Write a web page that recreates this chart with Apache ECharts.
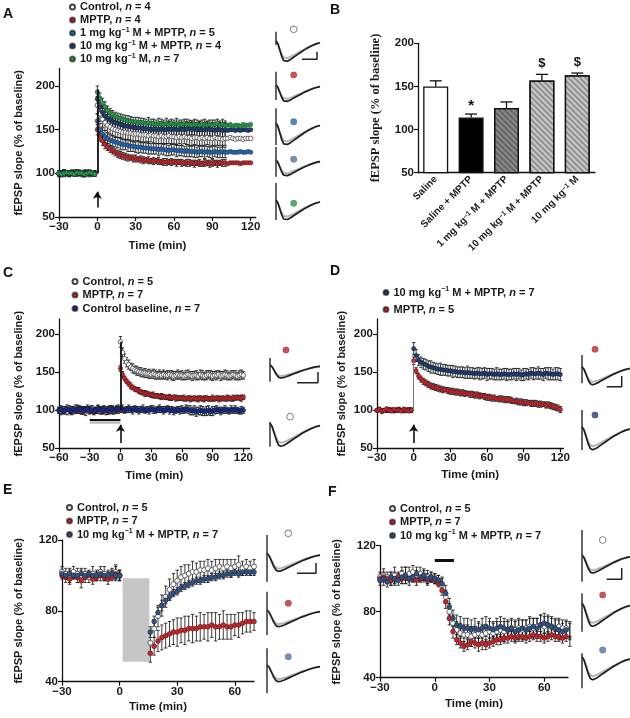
<!DOCTYPE html>
<html><head><meta charset="utf-8">
<script src="https://cdn.jsdelivr.net/npm/echarts@6.0.0/dist/echarts.min.js"></script>
<style>html,body{margin:0;padding:0;background:#fff}#c{width:630px;height:718px}</style>
</head><body><div id="c"></div>
<script>
// ---------------- DATA ----------------
// Panel A
const tA = [-30,-28,-26,-24,-22,-20,-18,-16,-14,-12,-10,-8,-6,-4,-2,0,2,4,6,8,10,12,14,16,18,20,22,24,26,28,30,32,34,36,38,40,42,44,46,48,50,52,54,56,58,60,62,64,66,68,70,72,74,76,78,80,82,84,86,88,90,92,94,96,98,100,102,104,106,108,110,112,114,116,118,120];
const ctrlA = [100,100,101,99,100,101,100,99,100,101,100,100,99,101,100,
178,168,162,158,155,153,151,150,149,148,
147,147,146,146,145,145,145,144,144,144,
143,144,143,143,142,143,142,142,143,142,
142,141,142,141,142,141,141,140,141,141,
140,141,140,141,140,140,141,140,140,139,
140,140,141,140,139,140,140,139,140,140,
140];
const errCtrlA = [3,2,3,2,3,2,3,2,3,2,3,2,3,2,3,
10,9,9,9,8,8,8,9,8,8,
8,9,8,8,9,8,8,9,8,8,
9,8,8,9,8,9,8,8,9,8,
8,9,8,9,8,8,9,8,8,9,
8,9,8,8,9,8,9,8,8,9,
8];
const mptpA = [100,99,101,100,99,100,101,99,100,100,101,99,100,100,99,
150,142,137,133,130,128,126,124,122,121,
120,119,118,118,117,117,116,116,115,115,
115,114,114,114,114,113,113,113,113,113,
113,112,113,112,112,112,112,112,111,112,
112,111,112,112,111,112,112,111,112,112,
112,111,112,112,112,112,111,112,112,112,
112];
const errMptpA = [2,2,3,2,2,2,3,2,2,2,3,2,2,2,2,
6,5,5,5,4,4,4,4,4,4,
4,4,4,3,4,4,3,4,4,3,
4,3,4,3,4,3,4,4,3,4,
3,4,3,4,3,4,4,3,4,3,
4,3,4,3,4,4,3,4,3,4,
4];
const m1A = [100,101,99,100,100,101,99,100,101,100,99,100,101,100,100,
160,150,145,142,140,138,137,136,135,134,
133,133,132,131,131,130,130,130,129,129,
129,128,128,128,127,128,127,127,126,127,
127,126,126,126,125,126,125,125,125,124,
125,125,124,125,124,124,125,124,124,125,
124,124,125,124,124,124,125,124,124,125,
124];
const errM1A = [3,2,3,3,2,3,2,3,3,2,3,2,3,3,2,
8,7,7,7,6,6,6,6,6,7,
6,6,7,6,6,6,7,6,6,6,
7,6,6,6,7,6,6,7,6,6,
6,7,6,6,6,7,6,6,7,6,
6,6,7,6,6,7,6,6,6,7,
6];
const m10mptpA = [99,100,101,100,99,100,100,101,100,99,100,101,100,99,100,
185,176,170,166,163,161,159,158,157,156,
155,154,154,153,153,152,152,152,151,151,
151,150,151,150,150,151,150,150,151,150,
151,150,150,151,150,151,151,152,151,150,
151,150,150,151,150,150,149,150,150,149,
150,149,150,150,149,150,149,150,150,149,
150];
const errM10mptpA = [3,2,3,2,3,3,2,3,2,3,2,3,3,2,3,
9,8,8,8,8,8,7,8,8,7,
8,7,8,8,7,8,7,8,8,7,
8,8,7,8,7,8,8,7,8,8,
7,8,8,7,8,8,7,8,7,8,
8,7,8,8,7,8,8,7,8,7,
8];
const m10A = [100,99,100,101,100,100,99,101,100,100,99,100,101,100,99,
193,186,180,176,172,169,167,165,164,163,
162,161,160,160,159,159,158,158,158,157,
158,157,157,156,157,157,156,157,156,157,
156,157,156,156,157,156,156,155,156,156,
155,156,156,155,156,155,156,157,155,156,
155,155,156,154,155,155,154,156,155,155,
156];
const errM10A = [2,3,2,2,3,2,2,3,2,2,3,2,2,3,2,
7,6,6,6,5,5,5,5,5,5,
5,5,6,5,5,5,6,5,5,5,
6,5,5,5,6,5,5,6,5,5,
5,6,5,5,5,6,5,5,6,5,
5,5,6,5,5,6,5,5,5,6,
5];

// Panel B
const catsB = ['Saline','Saline + MPTP','1 mg kg−1 M + MPTP','10 mg kg−1 M + MPTP','10 mg kg−1 M'];
const valsB = [150,114,125,157,163];
const errB = [6.5,4,7,7,2.5];
const sigB = ['','*','','$','$'];

// Panel C
const tC = [-60,-58,-56,-54,-52,-50,-48,-46,-44,-42,-40,-38,-36,-34,-32,-30,-28,-26,-24,-22,-20,-18,-16,-14,-12,-10,-8,-6,-4,-2,0,2,4,6,8,10,12,14,16,18,20,22,24,26,28,30,32,34,36,38,40,42,44,46,48,50,52,54,56,58,60,62,64,66,68,70,72,74,76,78,80,82,84,86,88,90,92,94,96,98,100,102,104,106,108,110,112,114,116,118,120];
const ctrlC = [100,99,101,100,98,101,100,99,102,100,101,99,100,98,101,100,102,99,100,101,99,100,101,98,100,102,100,99,101,100,
190,176,168,163,160,157,155,153,152,151,
150,149,149,148,148,147,148,147,146,147,
146,147,146,146,147,146,145,146,147,146,
146,145,146,147,146,145,146,146,145,147,
146,145,146,147,146,145,146,146,147,145,
146,147,146,145,146,147,146,145,146,147,
146];
const errCtrlC = [4,5,4,5,4,5,5,4,5,4,5,4,5,5,4,5,4,5,4,5,4,5,5,4,5,4,5,4,5,4,
7,6,6,6,6,5,6,5,6,5,
6,5,6,5,6,5,6,6,5,6,
5,6,5,6,5,6,6,5,6,5,
6,5,6,6,5,6,5,6,5,6,
6,5,6,5,6,6,5,6,5,6,
5,6,6,5,6,5,6,5,6,6,
5];
const mptpC = [100,101,99,100,101,100,99,100,101,100,99,101,100,100,99,101,100,99,100,101,100,99,100,101,100,99,101,100,100,99,
155,147,142,138,135,132,130,128,127,126,
124,123,122,122,121,120,120,119,119,118,
118,118,117,117,117,116,117,116,116,116,
116,116,115,116,115,115,116,115,115,116,
115,115,116,115,115,116,115,116,115,115,
116,115,116,116,115,116,116,117,116,116,
117];
const errMptpC = [3,2,3,3,2,3,2,3,3,2,3,2,3,3,2,3,2,3,3,2,3,2,3,3,2,3,2,3,3,2,
4,4,3,3,3,4,3,3,3,4,
3,3,4,3,3,3,4,3,3,3,
4,3,3,3,4,3,3,4,3,3,
3,4,3,3,4,3,3,3,4,3,
3,4,3,3,3,4,3,3,4,3,
3,3,4,3,3,4,3,3,3,4,
3];
const baseC = [100,101,99,100,102,100,99,101,100,102,101,100,99,101,102,100,101,99,100,102,101,100,101,99,100,102,101,100,101,102,
101,102,100,101,102,101,100,102,101,100,
101,102,100,101,100,102,101,100,101,102,
101,100,101,102,100,101,99,100,101,100,
101,100,102,101,100,99,100,98,99,100,
99,98,99,100,98,99,100,101,100,99,
100,101,100,99,101,100,101,100,99,100,
100];
const errBaseC = [4,5,4,4,5,4,5,4,4,5,4,5,4,4,5,4,5,4,4,5,4,5,4,4,5,4,5,4,4,5,
4,5,4,4,5,4,5,4,4,5,
4,5,4,4,5,4,5,4,4,5,
4,5,4,4,5,4,5,4,4,5,
5,4,5,5,6,5,6,6,5,6,
6,5,6,6,5,6,5,5,4,5,
4,5,4,4,5,4,5,4,4,5,
4];

// Panel D
const tD = tA;
const navyD = [100,101,99,100,100,101,100,99,100,101,100,99,100,101,100,
181,172,166,163,161,160,158,157,156,155,
154,154,153,153,152,152,151,151,150,150,
150,149,150,149,149,148,149,148,148,149,
147,148,148,147,148,147,147,148,147,147,
147,148,147,148,146,147,148,147,149,148,
148,149,148,147,149,148,148,147,148,148,
147];
const errNavyD = [2,3,2,2,3,2,3,2,2,3,2,2,3,2,3,
8,8,7,7,7,7,7,8,7,7,
7,8,7,7,7,7,8,7,7,7,
7,7,8,7,7,7,7,8,7,7,
8,7,7,7,8,7,7,7,8,7,
7,7,8,7,7,8,7,7,7,8,
7,8,7,8,7,8,8,7,8,8,
8];
const mptpD = [100,101,99,100,102,100,99,101,100,100,99,101,100,99,100,
165,152,145,141,138,136,134,132,131,130,
129,128,127,127,126,125,125,124,124,123,
123,122,122,121,121,120,120,119,119,118,
117,117,116,116,115,115,115,114,114,114,
113,112,112,111,111,110,110,110,109,109,
109,108,108,108,107,107,106,105,104,103,
101];
const errMptpD = [2,2,3,2,2,3,2,2,3,2,2,3,2,2,3,
5,4,4,4,4,4,4,4,4,4,
4,4,4,3,4,4,4,4,4,4,
4,4,3,4,4,4,4,4,3,4,
4,4,4,4,3,4,4,4,4,4,
4,3,4,4,4,4,4,3,4,4,
4,4,4,3,4,4,4,4,4,4,
4];

// Panel E
const tE = [-30,-28,-26,-24,-22,-20,-18,-16,-14,-12,-10,-8,-6,-4,-2,0,16,18,20,22,24,26,28,30,32,34,36,38,40,42,44,46,48,50,52,54,56,58,60,62,64,66,68,70];
const ctrlE = [102,101,100,102,101,100,101,99,101,100,102,101,100,101,102,100,
62,70,77,83,88,92,95,97,99,100,101,102,102,103,103,104,103,104,105,104,105,104,105,106,104,105,104,105];
const errCtrlE = [3,3,4,3,3,4,3,3,4,3,3,4,3,3,4,3,
5,5,6,6,6,6,6,6,6,6,5,6,5,5,5,5,5,5,4,5,4,5,4,5,4,4,4,4];
const mptpE = [100,99,98,100,99,97,99,100,98,99,100,99,98,99,101,100,
56,60,63,65,66,67,68,68,69,69,70,70,70,71,71,71,72,71,71,72,71,71,72,72,73,74,74,74];
const errMptpE = [2,3,3,2,3,4,3,2,3,2,3,2,3,2,4,3,
5,5,6,7,7,7,7,8,7,8,7,8,7,8,7,8,7,8,7,8,7,7,6,7,6,6,6,5];
const navyE = [101,100,101,100,100,101,100,101,100,100,101,100,100,101,100,100,
68,74,79,83,86,88,90,91,93,94,95,96,97,97,98,98,99,99,100,100,101,101,102,101,102,102,102,102];
const errNavyE = [2,2,2,2,2,2,2,2,2,2,2,2,2,2,2,2,
3,3,3,3,2,2,2,2,2,2,2,2,2,2,2,2,2,2,2,2,2,2,2,2,2,2,2,2];

// Panel F
const tF = [-30,-28,-26,-24,-22,-20,-18,-16,-14,-12,-10,-8,-6,-4,-2,0,2,4,6,8,10,12,14,16,18,20,22,24,26,28,30,32,34,36,38,40,42,44,46,48,50,52,54,56,58,60,62,64,66,68,70,72,74];
const ctrlF = [101,102,101,100,102,101,103,102,103,104,102,103,102,101,101,
100,99,96,89,80,73,69,67,66,66,65,66,67,66,67,68,67,68,69,68,69,70,69,70,69,70,71,70,71,72,71,72,71,70,71,70,70,69];
const errCtrlF = [3,4,3,4,5,3,4,5,4,4,3,4,3,4,3,
3,3,4,4,5,5,5,6,6,6,6,5,6,6,5,6,6,6,5,6,6,5,6,6,6,5,6,6,5,6,6,6,5,6,5,5,5,5];
const mptpF = [100,101,100,99,100,101,100,101,100,100,99,100,101,99,100,
99,97,93,86,76,68,63,61,59,60,62,61,60,61,60,61,62,63,63,64,64,65,64,65,65,64,65,66,65,65,64,65,66,65,65,64,65,62];
const errMptpF = [2,2,2,3,2,2,3,2,2,2,3,2,2,3,2,
2,2,3,4,4,4,3,3,3,3,3,3,4,4,3,3,3,3,3,3,3,3,3,3,3,3,3,3,3,3,3,3,3,3,3,3,3,3];
const navyF = [99,100,98,101,100,99,101,102,100,101,103,101,102,100,101,
100,99,97,91,83,76,72,71,70,70,69,70,69,70,71,70,69,70,71,70,69,70,68,69,70,69,70,71,70,72,73,72,71,70,69,68,69,68];
const errNavyF = [3,4,3,3,4,3,4,5,4,3,4,3,4,3,3,
3,3,4,5,5,5,6,6,6,6,6,6,5,6,6,6,5,6,6,6,5,6,6,6,5,6,6,5,6,6,6,5,6,5,6,5,5,5];

// Tick labels
const ticksX_A = [-30,0,30,60,90,120];
const ticksX_C = [-60,-30,0,30,60,90,120];
const ticksX_EF = [-30,0,30,60];
const ticksY_ACD = [50,100,150,200];
const ticksY_EF = [40,80,120];

// Example fEPSP waveform (shape)
const waveX = [0,2,4,6,8,10,12,15,18,22,26,30,34,38,42,46];
const waveBlack = [0,-3,-9,-15,-19,-20,-19.5,-18,-16,-13.5,-11,-8.5,-6.5,-4.5,-3,-2];
const waveGrey = [0,-3,-8,-13,-16,-17,-16.5,-15.5,-14,-12,-10,-8,-6,-4.5,-3,-2];

// ---------------- STYLE / LAYOUT ----------------
const FONT = '"Liberation Sans", Arial, Helvetica, sans-serif';
const SERIF = '"Liberation Serif", "Times New Roman", serif';
const C_RED = '#c1272d', C_BLUE = '#2a68b0', C_SLATE = '#4d72ab', C_NAVY = '#243f74', C_GREEN = '#2a9a4c', C_DBLUE = '#1c2d8a', C_NAVY2 = '#33527f';
const rich = {
  sup: {fontSize: 7, fontWeight: 'bold', fontFamily: FONT, color: '#1a1a1a', verticalAlign: 'top'},
  i: {fontStyle: 'italic', fontWeight: 'bold', fontSize: 11, fontFamily: FONT, color: '#1a1a1a'}
};
function richName(s) { return s.replace(/\u200b/g,'').replace(/kg−1/g, 'kg{sup|−1}').replace(/, n = /g, ', {i|n} = '); }
function fmtTime(v) { return v < 0 ? '−' + (-v) : String(v); }

const grids = [], xAxes = [], yAxes = [], series = [];
function addGrid(g) { grids.push(g); return grids.length - 1; }
function xTime(gi, min, max, ticks, gap) {
  xAxes.push({type:'value', gridIndex:gi, min, max,
    axisLine:{onZero:false, lineStyle:{color:'#111', width:1.3}},
    axisTick:{customValues:ticks, length:4, lineStyle:{color:'#111', width:1.2}},
    axisLabel:{customValues:ticks, formatter:fmtTime, fontFamily:FONT, fontSize:11.5, fontWeight:'bold', color:'#1a1a1a', margin:4},
    splitLine:{show:false}, name:'Time (min)', nameLocation:'middle', nameGap:gap,
    nameTextStyle:{fontFamily:FONT, fontSize:11.5, fontWeight:'bold', color:'#1a1a1a'}});
}
function yVal(gi, min, max, ticks, gap, nameFont) {
  yAxes.push({type:'value', gridIndex:gi, min, max,
    axisLine:{show:true, onZero:false, lineStyle:{color:'#111', width:1.3}},
    axisTick:{show:true, customValues:ticks, length:4, lineStyle:{color:'#111', width:1.2}},
    axisLabel:{customValues:ticks, fontFamily:FONT, fontSize:11.5, fontWeight:'bold', color:'#1a1a1a', margin:4},
    splitLine:{show:false}, name:'fEPSP slope (% of baseline)', nameLocation:'middle', nameGap:gap, nameRotate:90,
    nameTextStyle:{fontFamily:nameFont || FONT, fontSize: nameFont ? 12.5 : 11, fontWeight:'bold', color:'#1a1a1a'}});
}
function errRender(params, api) {
  const x = api.value(0), y = api.value(1), e = api.value(2);
  const a = api.coord([x, y + e]), b = api.coord([x, y - e]);
  const st = {stroke:'#1a1a1a', lineWidth:0.85};
  return {type:'group', children:[
    {type:'line', shape:{x1:a[0], y1:a[1], x2:b[0], y2:b[1]}, style:st},
    {type:'line', shape:{x1:a[0]-1.7, y1:a[1], x2:a[0]+1.7, y2:a[1]}, style:st},
    {type:'line', shape:{x1:b[0]-1.7, y1:b[1], x2:b[0]+1.7, y2:b[1]}, style:st}]};
}
function addSeries(gi, name, t, v, e, color, size, extra) {
  series.push({type:'custom', xAxisIndex:gi, yAxisIndex:gi, silent:true, z:2,
    data:t.map((x,i)=>[x, v[i], e[i]]), encode:{x:0, y:1}, renderItem:errRender});
  const open = color === 'open';
  const s = {type:'scatter', name, xAxisIndex:gi, yAxisIndex:gi, silent:true, z:3,
    data:t.map((x,i)=>[x, v[i]]), symbol:'circle', symbolSize:size || 4.5,
    itemStyle: open ? {color:'#fff', borderColor:'#444', borderWidth:0.8, opacity:1}
                    : {color, borderColor:'rgba(0,0,0,0.55)', borderWidth:0.55, opacity:1}};
  series.push(Object.assign(s, extra || {}));
}
function vline(x, y0, y1, color, w) {
  return [{coord:[x,y0], symbol:'none', lineStyle:{color, width:w, type:'solid'}}, {coord:[x,y1], symbol:'none'}];
}
function arrow(x, y0, y1) {
  return [{coord:[x,y0], symbol:'none', lineStyle:{color:'#111', width:1.6, type:'solid'}}, {coord:[x,y1], symbol:'arrow', symbolSize:[7,7]}];
}
function hline(x0, x1, y, color, w) {
  return [{coord:[x0,y], symbol:'none', lineStyle:{color, width:w, type:'solid'}}, {coord:[x1,y], symbol:'none'}];
}
function ml(data) { return {markLine:{silent:true, animation:false, label:{show:false}, symbol:['none','none'], data}}; }

// ----- Panel A -----
let g = addGrid({left:59, top:68.5, width:196.8, height:148.5});
xTime(g, -30, 124, ticksX_A, 23); yVal(g, 50, 220, ticksY_ACD, 35);
addSeries(g, 'Control, n = 4', tA, ctrlA, errCtrlA, 'open', 4.5, ml([vline(0, 100, 196, '#111', 1.8), arrow(0, 61, 79)]));
addSeries(g, 'MPTP, n = 4', tA, mptpA, errMptpA, C_RED);
addSeries(g, '1 mg kg−1 M + MPTP, n = 5', tA, m1A, errM1A, C_BLUE);
addSeries(g, '10 mg kg−1 M + MPTP, n = 4', tA, m10mptpA, errM10mptpA, C_NAVY);
addSeries(g, '10 mg kg−1 M, n = 7', tA, m10A, errM10A, C_GREEN);

// ----- Panel B -----
g = addGrid({left:418, top:43.3, width:177, height:129.4});
xAxes.push({type:'category', gridIndex:g, data:catsB,
  axisLine:{lineStyle:{color:'#111', width:1.3}},
  axisTick:{alignWithLabel:true, length:4, lineStyle:{color:'#111', width:1.2}},
  axisLabel:{interval:0, rotate:45, formatter:richName, fontFamily:FONT, fontSize:10, fontWeight:'bold', color:'#1a1a1a', margin:5, rich}});
yVal(g, 50, 200, ticksY_ACD, 36, SERIF);
const hatch = {symbol:'rect', symbolSize:1, dashArrayX:[1,0], dashArrayY:[1.2,1.8], rotation:Math.PI/4, color:'rgba(0,0,0,0.28)'};
series.push({type:'bar', xAxisIndex:g, yAxisIndex:g, silent:true, barWidth:25, z:2,
  data: valsB.map((v,i)=>({value:v, itemStyle:[
    {color:'#ffffff', borderColor:'#111', borderWidth:1.3},
    {color:'#000000', borderColor:'#111', borderWidth:1.3},
    {color:'#8a8a8a', borderColor:'#111', borderWidth:1.3, decal:hatch},
    {color:'#c9c9c9', borderColor:'#111', borderWidth:1.3, decal:hatch},
    {color:'#c9c9c9', borderColor:'#111', borderWidth:1.3, decal:hatch}][i]}))});
series.push({type:'custom', xAxisIndex:g, yAxisIndex:g, silent:true, z:3,
  data: valsB.map((v,i)=>[i, v, errB[i]]), encode:{x:0, y:1},
  renderItem:(params, api)=>{
    const i = api.value(0), v = api.value(1), e = api.value(2);
    const a = api.coord([i, v]), b = api.coord([i, v + e]);
    const st = {stroke:'#111', lineWidth:1.3};
    const ch = [{type:'line', shape:{x1:a[0], y1:a[1], x2:b[0], y2:b[1]}, style:st},
                {type:'line', shape:{x1:b[0]-6, y1:b[1], x2:b[0]+6, y2:b[1]}, style:st}];
    const mk = sigB[params.dataIndex];
    if (mk) ch.push({type:'text', x:b[0], y:b[1] - (mk === '*' ? 1 : 4), style:{text:mk, font:'bold ' + (mk === '*' ? 15 : 13) + 'px ' + FONT, fill:'#111', align:'center', verticalAlign:'bottom'}});
    return {type:'group', children:ch};
  }});

// ----- Panel C -----
g = addGrid({left:59, top:319, width:190.5, height:129.3});
xTime(g, -60, 126, ticksX_C, 22); yVal(g, 50, 220, ticksY_ACD, 35);
addSeries(g, 'Control, n = 5', tC, ctrlC, errCtrlC, 'open', 4.5, ml([vline(0, 100, 190, '#111', 1.8), arrow(0, 57, 81)]));
addSeries(g, 'MPTP, n = 7', tC, mptpC, errMptpC, C_RED);
addSeries(g, 'Control baseline, n = 7', tC, baseC, errBaseC, C_DBLUE, 4.5, ml([hline(-30, 0, 84, '#bdbdbd', 2.5), hline(-30, 0, 88, '#111', 2)]));

// ----- Panel D -----
g = addGrid({left:377, top:319, width:186.4, height:129.3});
xTime(g, -30, 122.5, ticksX_A, 21); yVal(g, 50, 220, ticksY_ACD, 30);
addSeries(g, '10 mg kg−1 M + MPTP, n = 7', tD, navyD, errNavyD, C_NAVY, 4.5, ml([vline(0, 100, 166, '#777', 1), arrow(0, 57, 81)]));
addSeries(g, 'MPTP, n = 5', tD, mptpD, errMptpD, C_RED);

// ----- Panel E -----
g = addGrid({left:62, top:540, width:192, height:141.7});
xTime(g, -30, 70, ticksX_EF, 19); yVal(g, 40, 120, ticksY_EF, 38);
addSeries(g, 'Control, n = 5', tE, ctrlE, errCtrlE, 'open', 5, {markArea:{silent:true, itemStyle:{color:'#c6c6c6'}, data:[[{coord:[1.6, 98.4]}, {coord:[15.5, 51.3]}]]}});
addSeries(g, 'MPTP, n = 7', tE, mptpE, errMptpE, C_RED, 5);
addSeries(g, '10 mg kg−1 M + MPTP, n = 7\u200b', tE, navyE, errNavyE, C_NAVY2, 5);

// ----- Panel F -----
g = addGrid({left:380, top:545.7, width:188, height:132});
xTime(g, -30, 73, ticksX_EF, 20); yVal(g, 40, 120, ticksY_EF, 38);
addSeries(g, 'Control, n = 5', tF, ctrlF, errCtrlF, 'open', 5, ml([hline(0, 10.5, 111, '#111', 3)]));
addSeries(g, 'MPTP, n = 7', tF, mptpF, errMptpF, C_RED, 5);
addSeries(g, '10 mg kg−1 M + MPTP, n = 7\u200b', tF, navyF, errNavyF, C_NAVY2, 5);

// ----- Inset traces (layout in px relative to stimulus artifact / baseline) -----
const traces = [
  {ax:276, base:40.7, w:44, d:21, art:[9,-4.3], dot:['open',17.7,11.4], bar:[26,41,-18.6,-11]},
  {ax:276, base:85, w:44, d:16.7, art:[13.3,-15], dot:[C_RED,17.7,10]},
  {ax:276, base:123.3, w:44, d:21.7, art:[15,-21.7], dot:[C_BLUE,17.7,1.6]},
  {ax:276, base:160, w:44, d:16, art:[13,-16.7], dot:[C_SLATE,17.7,0.7]},
  {ax:276, base:200, w:44, d:20, art:[17,-20], dot:[C_GREEN,17.7,-3.3]},
  {ax:270, base:365, w:50, d:13, art:[7,-16.7], dot:[C_RED,16,15], bar:[27,48,-17.7,-7]},
  {ax:270, base:423.3, w:50, d:23, art:[1.6,-23.4], dot:['open',20,6.6]},
  {ax:582, base:366.7, w:48, d:18, art:[11.7,-16.6], dot:[C_RED,13,17.4], bar:[24.7,39.7,-20,-9.3]},
  {ax:582, base:426.7, w:48, d:23, art:[16.7,-23.3], dot:[C_NAVY,13,11.7]},
  {ax:267, base:553.3, w:53, d:18, art:[18.3,-28.4], dot:['open',21.3,20], bar:[30,49,-20,-9.7]},
  {ax:267, base:610, w:53, d:16.7, art:[18.3,-25], dot:[C_RED,21.3,6.7]},
  {ax:267, base:665, w:53, d:16.7, art:[16.7,-28.3], dot:[C_SLATE,21.3,8.3]},
  {ax:582, base:555, w:48, d:18, art:[25,-26.7], dot:['open',20.7,15], bar:[24.7,39.7,-24.3,-13]},
  {ax:582, base:603.3, w:48, d:23, art:[10,-28.4], dot:[C_RED,20.7,8.3]},
  {ax:582, base:656.7, w:48, d:23, art:[3.4,-31.6], dot:[C_SLATE,20.7,6.7]}
];
traces.forEach(tr => {
  const gi = addGrid({left:tr.ax, top:tr.base - 30, width:tr.w, height:65});
  const k = 20 / tr.d, kx = 46 / tr.w;
  xAxes.push({type:'value', gridIndex:gi, min:0, max:46, show:false});
  yAxes.push({type:'value', gridIndex:gi, min:-35 * k, max:30 * k, show:false});
  const common = {xAxisIndex:gi, yAxisIndex:gi, silent:true, symbol:'none', animation:false};
  series.push(Object.assign({type:'line', data:waveX.map((x,i)=>[x, waveGrey[i]]), lineStyle:{color:'#b5b5b5', width:2}, z:2}, common));
  series.push(Object.assign({type:'line', data:waveX.map((x,i)=>[x, waveBlack[i]]), lineStyle:{color:'#1e1e1e', width:1.7}, z:3}, common));
  series.push(Object.assign({type:'line', data:[[0, tr.art[0]*k], [0, tr.art[1]*k]], lineStyle:{color:'#333', width:1.5}, z:3}, common));
  if (tr.bar) series.push(Object.assign({type:'line', data:[[tr.bar[0]*kx, tr.bar[2]*k], [tr.bar[1]*kx, tr.bar[2]*k], [tr.bar[1]*kx, tr.bar[3]*k]], lineStyle:{color:'#222', width:1.5}, z:3}, common));
  const open = tr.dot[0] === 'open';
  series.push({type:'scatter', xAxisIndex:gi, yAxisIndex:gi, silent:true, z:4, symbolSize:6.5,
    data:[[tr.dot[1]*kx, tr.dot[2]*k]],
    itemStyle: open ? {color:'#fff', borderColor:'#777', borderWidth:1.2} : {color:tr.dot[0], borderColor:'rgba(0,0,0,0.3)', borderWidth:0.5}});
});

// ----- Legends -----
function legendCfg(left, top, names, gap) {
  return {left, top, orient:'vertical', padding:0, itemGap:gap || 0, itemWidth:5, itemHeight:5, selectedMode:false,
    data:names.map(n => ({name:n, icon:'circle'})), formatter:richName,
    textStyle:{fontFamily:FONT, fontSize:11, fontWeight:'bold', color:'#1a1a1a', lineHeight:13, rich}};
}
const legends = [
  legendCfg(69, 0.5, ['Control, n = 4','MPTP, n = 4','1 mg kg−1 M + MPTP, n = 5','10 mg kg−1 M + MPTP, n = 4','10 mg kg−1 M, n = 7']),
  legendCfg(71.5, 275, ['Control, n = 5','MPTP, n = 7','Control baseline, n = 7'], 0.5),
  legendCfg(382.5, 286, ['10 mg kg−1 M + MPTP, n = 7','MPTP, n = 5'], 4),
  legendCfg(66, 501, ['Control, n = 5','MPTP, n = 7','10 mg kg−1 M + MPTP, n = 7\u200b'], 0.5),
  legendCfg(389, 502, ['Control, n = 5','MPTP, n = 7','10 mg kg−1 M + MPTP, n = 7\u200b'], 0.5)
];

// ----- Panel letters -----
const letters = [['A',3,7],['B',330,3],['C',3,266],['D',330,264],['E',3,483],['F',328,485]];

const chart = echarts.init(document.getElementById('c'), null, {width:630, height:718, renderer:'canvas'});
chart.setOption({
  animation:false, backgroundColor:'#ffffff',
  grid:grids, xAxis:xAxes, yAxis:yAxes, series, legend:legends,
  graphic: letters.map(l => ({type:'text', left:l[1], top:l[2], style:{text:l[0], font:'bold 14px ' + FONT, fill:'#111'}}))
});
</script></body></html>
